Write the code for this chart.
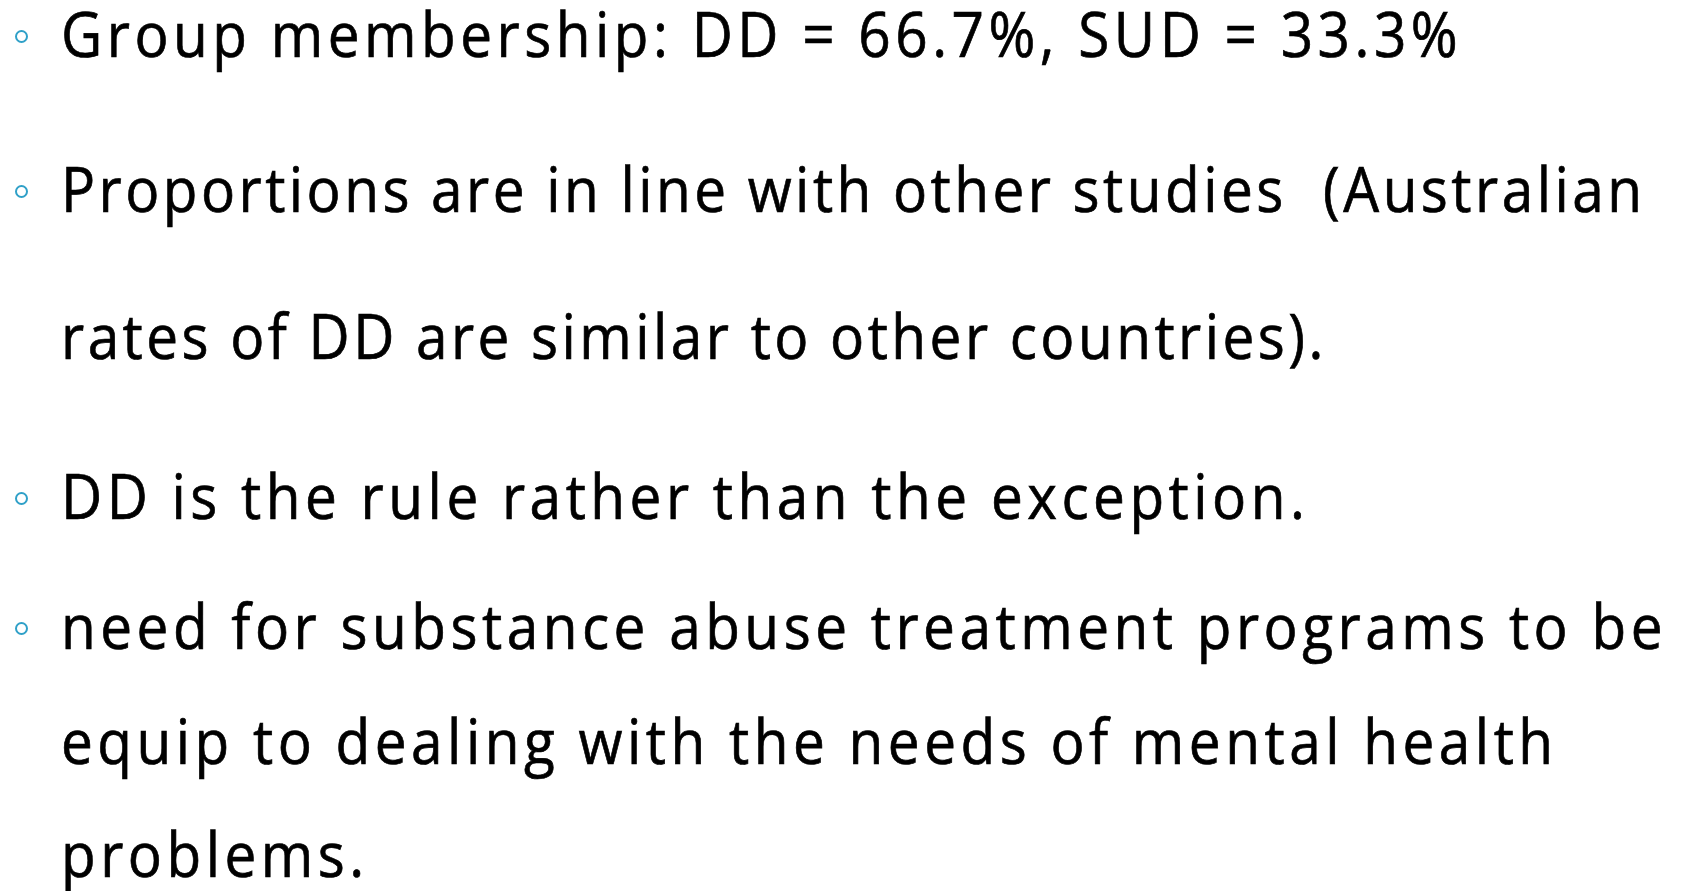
<!DOCTYPE html>
<html>
<head>
<meta charset="utf-8">
<script src="https://cdn.jsdelivr.net/npm/chart.js@4.4.1/dist/chart.umd.min.js"></script>
<style>
  html, body { margin: 0; padding: 0; background: #fff; }
  body { width: 1702px; height: 891px; position: relative; overflow: hidden; }
  .line {
    position: absolute;
    left: 61px;
    font-family: 'Open Sans', 'Noto Sans', sans-serif;
    font-size: 63px;
    line-height: 63px;
    letter-spacing: 5px;
    white-space: nowrap;
    color: #000;
    -webkit-text-stroke: 0.7px #000;
    transform: scaleX(0.9);
    transform-origin: 0 0;
  }
  .line.tight { letter-spacing: 3.85px; }
  .dot {
    position: absolute;
    left: 15px;
    width: 9px;
    height: 9px;
    border: 2.6px solid #2fa0c8;
    border-radius: 50%;
  }
</style>
</head>
<body>
<script>
// group split
const groups = ['DD', 'SUD'];
const shares = [66.7, 33.3];

const membership = 'Group membership: ' +
  groups.map((g, i) => g + ' = ' + shares[i] + '%').join(', ');

// slide lines, baseline y and whether a bullet sits in front
const lineText = [
  membership,
  'Proportions are in line with other studies\u00a0 (Australian',
  'rates of DD are similar to other countries).',
  'DD is the rule rather than the exception.',
  'need for substance abuse treatment programs to be',
  'equip to dealing with the needs of mental health',
  'problems.'
];
const baselines = [57, 212, 359, 519, 649, 764, 877];
const bullets = [true, true, false, true, true, false, false];
// second paragraph is set a little tighter on the slide
const tight = [false, true, true, false, false, false, false];

for (let i in lineText) {
  let d = document.createElement('div');
  d.className = tight[i] ? 'line tight' : 'line';
  d.textContent = lineText[i];
  d.style.top = (baselines[i] - 55.9) + 'px';
  document.body.appendChild(d);
  if (bullets[i]) {
    let b = document.createElement('div');
    b.className = 'dot';
    b.style.top = (baselines[i] - 20.5 - 7) + 'px';
    document.body.appendChild(b);
  }
}
</script>
</body>
</html>
